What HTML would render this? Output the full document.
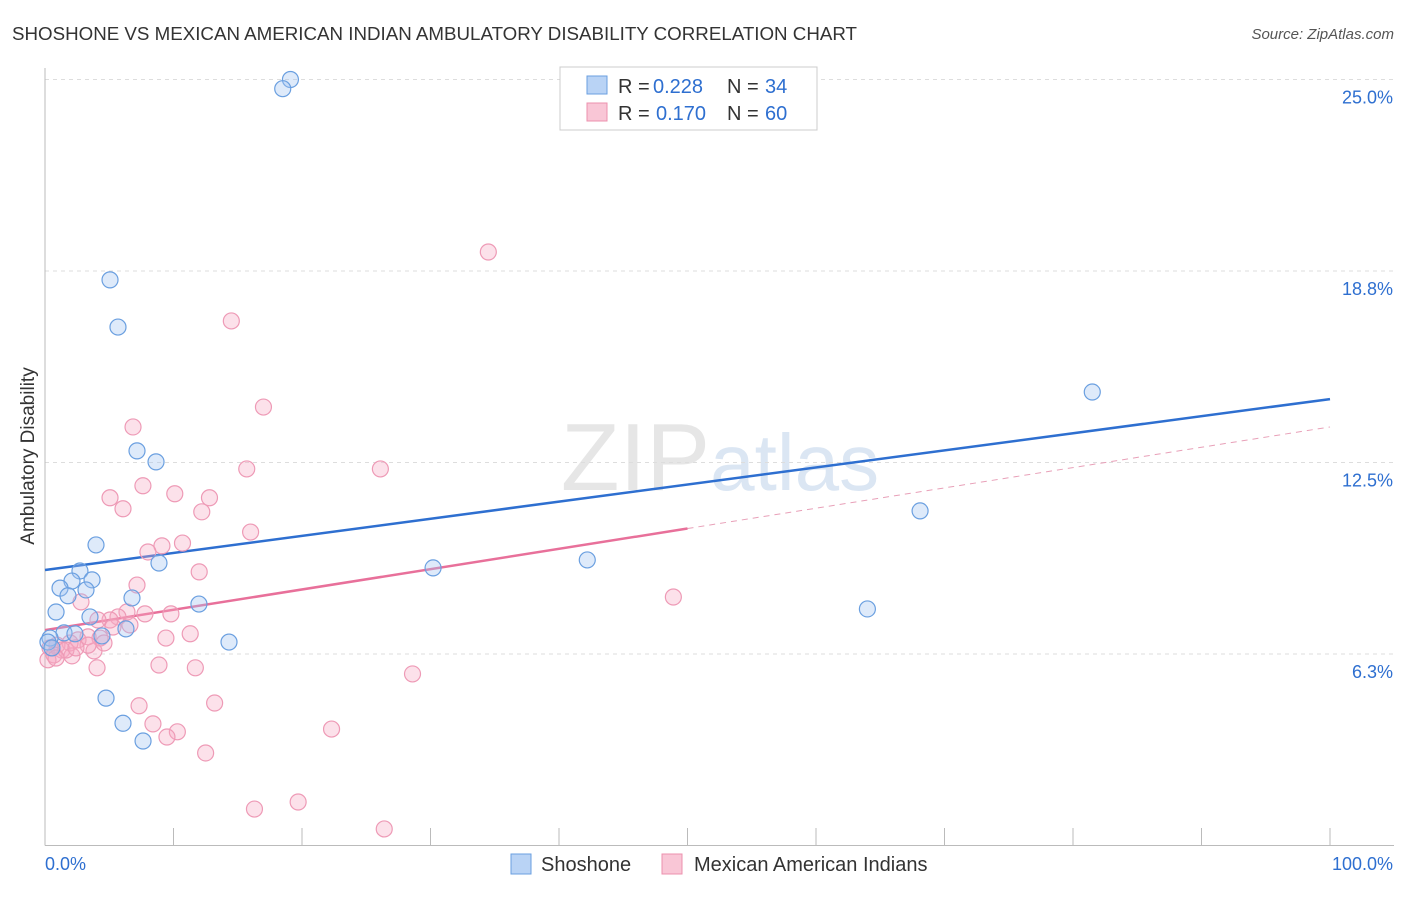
<!DOCTYPE html>
<html><head><meta charset="utf-8"><style>
body{margin:0;background:#fff;font-family:"Liberation Sans",sans-serif;}
svg text{font-family:"Liberation Sans",sans-serif;}
</style></head><body>
<svg id="chart" width="1406" height="892" xmlns="http://www.w3.org/2000/svg">
<text x="12" y="40" font-size="18" fill="#333" textLength="845" lengthAdjust="spacingAndGlyphs">SHOSHONE VS MEXICAN AMERICAN INDIAN AMBULATORY DISABILITY CORRELATION CHART</text>
<text x="1394" y="39" font-size="15" fill="#555" font-style="italic" text-anchor="end">Source: ZipAtlas.com</text>
<text x="720" y="490" font-size="96" text-anchor="middle" fill="#e6e6e6" font-family="Liberation Serif">ZIP<tspan fill="#dbe6f3" font-family="Liberation Sans" font-size="80">atlas</tspan></text>
<text transform="translate(34,456) rotate(-90)" font-size="19" fill="#333" text-anchor="middle">Ambulatory Disability</text>
<g id="grid"></g><g id="axes"></g><g id="lines"></g><g id="pts"></g>
<g>
<rect x="560" y="67" width="257" height="63" fill="#fff" stroke="#ccc"/>
<rect x="587" y="76" width="20" height="18" fill="#b9d3f5" stroke="#6a9fe0"/>
<rect x="587" y="103" width="20" height="18" fill="#f9c6d6" stroke="#ec90ae"/>
<text x="618" y="93" font-size="20" fill="#333">R =</text>
<text x="653" y="93" font-size="20" fill="#2e6fd0">0.228</text>
<text x="727" y="93" font-size="20" fill="#333">N =</text>
<text x="765" y="93" font-size="20" fill="#2e6fd0">34</text>
<text x="618" y="120" font-size="20" fill="#333">R =</text>
<text x="656" y="120" font-size="20" fill="#2e6fd0">0.170</text>
<text x="727" y="120" font-size="20" fill="#333">N =</text>
<text x="765" y="120" font-size="20" fill="#2e6fd0">60</text>
</g>
<g>
<rect x="511" y="854" width="20" height="20" fill="#b9d3f5" stroke="#6a9fe0"/>
<text x="541" y="871" font-size="20" fill="#333">Shoshone</text>
<rect x="662" y="854" width="20" height="20" fill="#f9c6d6" stroke="#ec90ae"/>
<text x="694" y="871" font-size="20" fill="#333">Mexican American Indians</text>
</g>
</svg>
<script>
const yTicks=[6.25,12.5,18.75,25];
const yTickLabels=["6.3%","12.5%","18.8%","25.0%"];
const xTickLabels=["0.0%","100.0%"];
const shoX=[19.1,18.5,5.06,5.68,7.16,8.64,3.97,8.87,2.72,2.10,3.66,1.17,3.19,1.79,6.77,0.86,11.98,3.50,1.48,4.43,6.30,0.39,0.23,14.32,4.75,6.07,7.63,30.2,42.2,68.1,64.0,81.5,2.33,0.54];
const shoY=[25.0,24.7,18.46,16.92,12.88,12.52,9.81,9.22,8.96,8.63,8.67,8.40,8.34,8.15,8.08,7.62,7.88,7.46,6.94,6.84,7.07,6.77,6.64,6.64,4.81,3.99,3.41,9.06,9.32,10.92,7.72,14.80,6.91,6.45];
const mexX=[34.5,14.5,17.0,6.85,15.7,26.1,7.62,5.06,10.1,12.8,6.07,12.2,16.0,10.7,9.10,8.01,12.0,7.16,2.80,9.80,7.78,6.38,5.68,5.06,4.12,5.29,6.61,11.3,9.41,4.28,3.35,2.57,1.95,0.93,0.39,1.32,0.70,0.23,2.10,3.81,3.35,1.63,4.05,8.87,11.7,48.9,28.6,13.2,7.32,8.40,10.3,9.49,22.3,12.5,19.7,16.3,26.4,2.41,0.86,4.59];
const mexY=[19.37,17.12,14.31,13.66,12.29,12.29,11.74,11.35,11.48,11.35,10.99,10.89,10.23,9.87,9.78,9.58,8.93,8.50,7.95,7.56,7.56,7.62,7.46,7.36,7.36,7.13,7.20,6.91,6.77,6.77,6.81,6.71,6.61,6.54,6.45,6.38,6.22,6.06,6.19,6.35,6.54,6.38,5.80,5.89,5.80,8.11,5.60,4.65,4.56,3.97,3.71,3.54,3.80,3.02,1.42,1.19,0.54,6.45,6.12,6.61];
const shoLine=[8.99,14.57];
const mexLine=[7.03,13.66];
const NS="http://www.w3.org/2000/svg";
const X=v=>45+v/100*1285, Y=v=>845.5-v/6.25*191.5;
function mk(t,a,p){const e=document.createElementNS(NS,t);for(const k in a)e.setAttribute(k,a[k]);document.getElementById(p).appendChild(e);return e;}
yTicks.forEach((t,i)=>{
 const g=mk('line',{x1:45,x2:1394,y1:Y(t),y2:Y(t),stroke:'#ddd','stroke-dasharray':'4,4'},'grid');
 
 
 const l=mk('text',{x:1393,y:Y(t)+24,'font-size':18,fill:'#2e6fd0','text-anchor':'end'},'grid');
 
 
 l.textContent=yTickLabels[i];
});
const ax=mk('line',{x1:45,x2:1394,y1:845.5,y2:845.5,stroke:'#bbb'},'axes');


const ay=mk('line',{x1:45,x2:45,y1:68,y2:845.5,stroke:'#bbb'},'axes');


for(let i=0;i<=10;i++){const t=mk('line',{x1:X(i*10),x2:X(i*10),y1:828,y2:845.5,stroke:'#bbb'},'axes');
 
 }
xTickLabels.forEach((s,i)=>{const t=mk('text',{x:i?1393:45,y:870,'font-size':18,fill:'#2e6fd0','text-anchor':i?'end':'start'},'axes');
 
 
 t.textContent=s;});
const b=mk('line',{x1:X(0),y1:Y(shoLine[0]),x2:X(100),y2:Y(shoLine[1]),stroke:'#2e6fd0','stroke-width':2.5},'lines');


const pm=mexLine[0]+(mexLine[1]-mexLine[0])*0.5;
const p1=mk('line',{x1:X(0),y1:Y(mexLine[0]),x2:X(50),y2:Y(pm),stroke:'#e8709a','stroke-width':2.5},'lines');


const p2=mk('line',{x1:X(50),y1:Y(pm),x2:X(100),y2:Y(mexLine[1]),stroke:'#e8a0b8','stroke-width':1,'stroke-dasharray':'6,5'},'lines');


mexX.forEach((v,i)=>{const c=mk('circle',{cx:X(v),cy:Y(mexY[i]),r:8,fill:'rgba(246,170,195,0.35)',stroke:'#ee9ab6','stroke-width':1.2},'pts');
 
 });
shoX.forEach((v,i)=>{const c=mk('circle',{cx:X(v),cy:Y(shoY[i]),r:8,fill:'rgba(160,195,240,0.35)',stroke:'#6a9fe0','stroke-width':1.2},'pts');
 
 });
</script>
</body></html>
